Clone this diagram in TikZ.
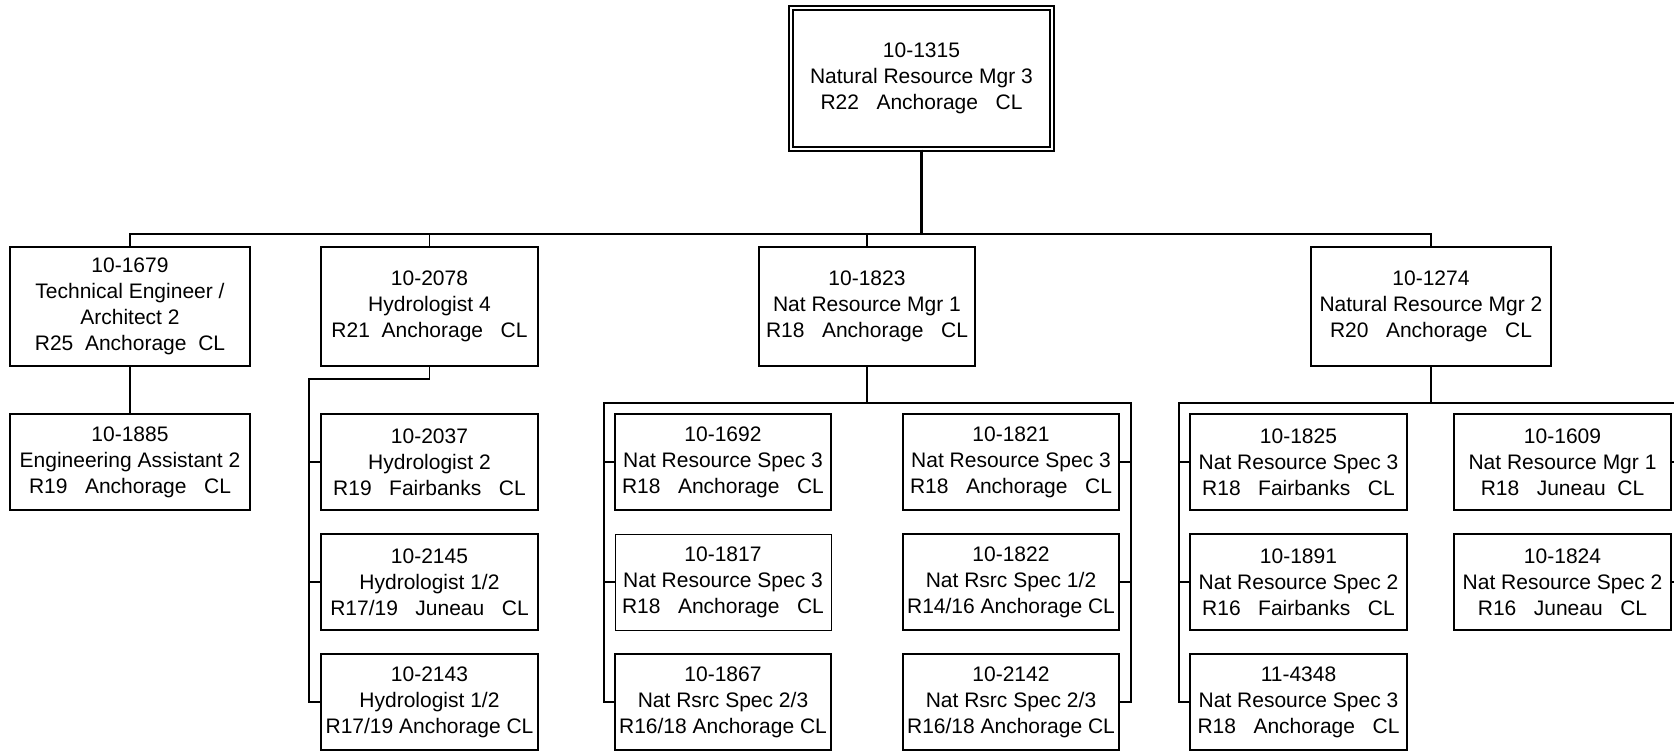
\documentclass[tikz,border=0pt]{standalone}
\usepackage{fontspec}
\setmainfont{Liberation Sans}
\begin{document}
\begin{tikzpicture}[x=1pt,y=-1pt,
  box/.style={draw, line width=1.3pt, inner sep=0pt, align=center,
    font=\fontsize{21}{26}\selectfont},
  lone/.style={box, minimum height=119pt},
  ltwo/.style={box, minimum height=96pt},
  conn/.style={line width=1.3pt},
  thickconn/.style={line width=2.4pt}]
\useasboundingbox (0,0) rectangle (1674,751);
\clip (0,0) rectangle (1674,751);
% top
\node[box, double, line width=1.2pt, double distance=2.8pt, minimum width=261pt, minimum height=141pt]
  (top) at (921.5,78.5) {10-1315\\Natural Resource Mgr 3\\R22~~~Anchorage~~~CL};
% level 1
\node[lone, minimum width=240pt] (n1679) at (130,306.5) {10-1679\\Technical Engineer /\\Architect 2\\R25~~Anchorage~~CL};
\node[lone, minimum width=217pt] (n2078) at (429.5,306.5) {10-2078\\Hydrologist 4\\R21~~Anchorage~~~CL};
\node[lone, minimum width=216pt] (n1823) at (867,306.5) {10-1823\\Nat Resource Mgr 1\\R18~~~Anchorage~~~CL};
\node[lone, minimum width=240pt] (n1274) at (1431,306.5) {10-1274\\Natural Resource Mgr 2\\R20~~~Anchorage~~~CL};
% level 2
\node[ltwo, minimum width=240pt] (n1885) at (130,462) {10-1885\\Engineering Assistant 2\\R19~~~Anchorage~~~CL};
\node[ltwo, minimum width=217pt] (n2037) at (429.5,462) {10-2037\\Hydrologist 2\\R19~~~Fairbanks~~~CL};
\node[ltwo, minimum width=217pt] (n2145) at (429.5,582) {10-2145\\Hydrologist 1/2\\R17/19~~~Juneau~~~CL};
\node[ltwo, minimum width=217pt] (n2143) at (429.5,702) {10-2143\\Hydrologist 1/2\\R17/19 Anchorage CL};
\node[ltwo, minimum width=216pt] (n1692) at (723,462) {10-1692\\Nat Resource Spec 3\\R18~~~Anchorage~~~CL};
\node[ltwo, minimum width=216pt, line width=0.8pt] (n1817) at (723,582) {10-1817\\Nat Resource Spec 3\\R18~~~Anchorage~~~CL};
\node[ltwo, minimum width=216pt] (n1867) at (723,702) {10-1867\\Nat Rsrc Spec 2/3\\R16/18 Anchorage CL};
\node[ltwo, minimum width=216pt] (n1821) at (1011,462) {10-1821\\Nat Resource Spec 3\\R18~~~Anchorage~~~CL};
\node[ltwo, minimum width=216pt] (n1822) at (1011,582) {10-1822\\Nat Rsrc Spec 1/2\\R14/16 Anchorage CL};
\node[ltwo, minimum width=216pt] (n2142) at (1011,702) {10-2142\\Nat Rsrc Spec 2/3\\R16/18 Anchorage CL};
\node[ltwo, minimum width=217pt] (n1825) at (1298.5,462) {10-1825\\Nat Resource Spec 3\\R18~~~Fairbanks~~~CL};
\node[ltwo, minimum width=217pt] (n1891) at (1298.5,582) {10-1891\\Nat Resource Spec 2\\R16~~~Fairbanks~~~CL};
\node[ltwo, minimum width=217pt] (n4348) at (1298.5,702) {11-4348\\Nat Resource Spec 3\\R18~~~Anchorage~~~CL};
\node[ltwo, minimum width=217pt] (n1609) at (1562.5,462) {10-1609\\Nat Resource Mgr 1\\R18~~~Juneau~~CL};
\node[ltwo, minimum width=217pt] (n1824) at (1562.5,582) {10-1824\\Nat Resource Spec 2\\R16~~~Juneau~~~CL};
% connectors
\coordinate (bus) at (921.5,234);
\draw[thickconn] (top.south) -- (bus);
\draw[conn] (n1679.north) |- (bus);
\draw[thickconn] (n2078.north |- bus) -- (bus);
\draw[conn] (n2078.north) -- (n2078.north |- bus);
\draw[conn] (n1823.north) |- (bus);
\draw[conn] (n1274.north) |- (bus);
\draw[conn] (n1679.south) -- (n1885.north);
% hydrologists
\coordinate (hb) at (309,379);
\draw[conn] (n2078.south) |- (hb) |- (n2143.west);
\draw[conn] (n2037.west) -- (n2037.west -| hb);
\draw[conn] (n2145.west) -- (n2145.west -| hb);
% 1823 group
\coordinate (cbl) at (604,403);
\coordinate (cbr) at (1131,403);
\draw[conn] (n1823.south) -- (n1823.south |- cbl);
\draw[conn] (n1867.west) -| (cbl) -- (cbr) |- (n2142.east);
\draw[conn] (n1692.west) -- (n1692.west -| cbl);
\draw[conn] (n1817.west) -- (n1817.west -| cbl);
\draw[conn] (n1821.east) -- (n1821.east -| cbr);
\draw[conn] (n1822.east) -- (n1822.east -| cbr);
% 1274 group
\coordinate (dbl) at (1179,403);
\coordinate (dbr) at (1681,403);
\draw[conn] (n1274.south) -- (n1274.south |- dbl);
\draw[conn] (n4348.west) -| (dbl) -- (dbr) |- (n1824.east);
\draw[conn] (n1825.west) -- (n1825.west -| dbl);
\draw[conn] (n1891.west) -- (n1891.west -| dbl);
\draw[conn] (n1609.east) -- (n1609.east -| dbr);
\end{tikzpicture}
\end{document}
